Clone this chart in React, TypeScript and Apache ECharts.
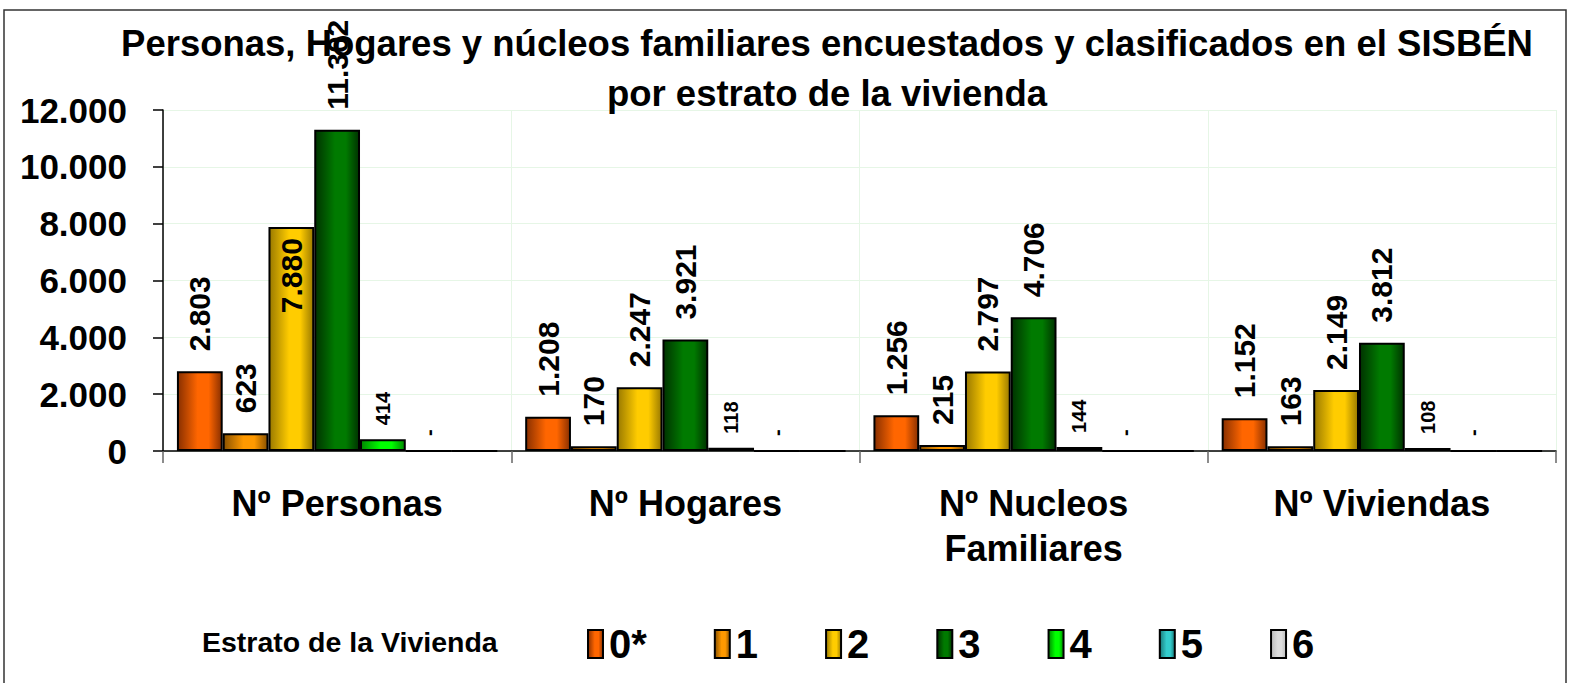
import React, { useEffect, useRef } from "react";
import * as echarts from "echarts";

const categories = ["Nº Personas", "Nº Hogares", "Nº Nucleos\nFamiliares", "Nº Viviendas"];
const seriesNames = ["0*", "1", "2", "3", "4", "5", "6"];
const estrato0 = [2803, 1208, 1256, 1152];
const estrato1 = [623, 170, 215, 163];
const estrato2 = [7880, 2247, 2797, 2149];
const estrato3 = [11302, 3921, 4706, 3812];
const estrato4 = [414, 118, 144, 108];
const estrato5 = [0, 0, 0, 0];
const estrato6 = [0, 0, 0, 0];
const seriesValues = [estrato0, estrato1, estrato2, estrato3, estrato4, estrato5, estrato6];

const baseColors = ["#FF6600", "#FF9900", "#FFCC00", "#007A00", "#00FF00", "#33CCCC", "#DDDDDD"];
const darkColors = ["#8A3000", "#8A5200", "#9A7A00", "#003300", "#008800", "#1A7A7A", "#BBBBBB"];

const FONT = "'Liberation Sans', Arial, sans-serif";

const fmt = (v: number) => String(v).replace(/\B(?=(\d{3})+(?!\d))/g, ".");

function grad(i: number) {
  return new echarts.graphic.LinearGradient(0, 0, 1, 0, [
    { offset: 0, color: darkColors[i] },
    { offset: 0.45, color: baseColors[i] },
    { offset: 0.7, color: baseColors[i] },
    { offset: 1, color: darkColors[i] },
  ]);
}

export default function App() {
  const ref = useRef<HTMLDivElement>(null);
  useEffect(() => {
    if (!ref.current) return;
    const chart = echarts.init(ref.current, undefined, { renderer: "svg" });
    const series = seriesValues.map((vals, i) => {
      const big = i <= 3;
      const data = vals.map((v, j) => {
        if (i === 2 && j === 0) {
          return {
            value: v,
            label: { position: "insideTop", align: "right", distance: 11 },
          };
        }
        return v;
      });
      return {
        name: seriesNames[i],
        type: "bar",
        data,
        barGap: "0%",
        barCategoryGap: "8%",
        itemStyle: { color: grad(i), borderColor: "#000", borderWidth: 2 },
        label: {
          show: i !== 6,
          position: "top",
          rotate: 90,
          align: "left",
          verticalAlign: "middle",
          distance: big ? 20 : 14,
          fontSize: big ? 30 : 20,
          fontWeight: "bold",
          fontFamily: FONT,
          color: "#000",
          formatter: (p: any) => (p.value === 0 ? "-" : fmt(p.value)),
        },
      };
    });
    chart.setOption({
      animation: false,
      backgroundColor: "#fff",
      title: {
        text: "Personas, Hogares y núcleos familiares encuestados y clasificados en el SISBÉN\npor estrato de la vivienda",
        left: 827,
        top: 18,
        textAlign: "center",
        padding: 0,
        textStyle: { fontSize: 36.5, fontWeight: "bold", fontFamily: FONT, color: "#000", lineHeight: 50 },
      },
      legend: {
        data: seriesNames,
        left: 587,
        top: 624,
        icon: "rect",
        itemWidth: 15,
        itemHeight: 28,
        itemGap: 67,
        padding: 0,
        itemStyle: { borderColor: "#000", borderWidth: 2 },
        textStyle: {
          fontSize: 40,
          fontWeight: "bold",
          fontFamily: FONT,
          color: "#000",
          padding: [0, 0, 6, 1],
        },
      },
      grid: { left: 163, right: 24, top: 110, bottom: 232, containLabel: false },
      xAxis: {
        type: "category",
        data: categories,
        axisLine: { show: true, lineStyle: { color: "#000", width: 1.5 } },
        axisTick: { show: true, length: 12, lineStyle: { color: "#666", width: 1.5 } },
        splitLine: { show: true, lineStyle: { color: "#E6F6E6", width: 1 } },
        axisLabel: {
          interval: 0,
          margin: 30,
          fontSize: 36,
          lineHeight: 45,
          fontWeight: "bold",
          fontFamily: FONT,
          color: "#000",
        },
      },
      yAxis: {
        type: "value",
        min: 0,
        max: 12000,
        interval: 2000,
        axisLine: { show: true, lineStyle: { color: "#000", width: 1.5 } },
        axisTick: { show: true, length: 10, lineStyle: { color: "#000", width: 1.5 } },
        splitLine: { show: true, lineStyle: { color: "#E6F6E6", width: 1 } },
        axisLabel: {
          margin: 36,
          fontSize: 35,
          fontWeight: "bold",
          fontFamily: FONT,
          color: "#000",
          formatter: (v: number) => fmt(v),
        },
      },
      graphic: [
        {
          type: "rect",
          z: -10,
          shape: { x: 4, y: 10, width: 1562, height: 690 },
          style: { fill: "none", stroke: "#333", lineWidth: 1.5 },
        },
        {
          type: "text",
          x: 202,
          y: 642,
          style: {
            text: "Estrato de la Vivienda",
            fontSize: 28.5,
            fontWeight: "bold",
            fontFamily: FONT,
            fill: "#000",
            verticalAlign: "middle",
            align: "left",
          },
        },
      ],
      series,
    });
    return () => chart.dispose();
  }, []);
  return <div ref={ref} style={{ position: "absolute", left: 0, top: 0, width: 1580, height: 683 }} />;
}
